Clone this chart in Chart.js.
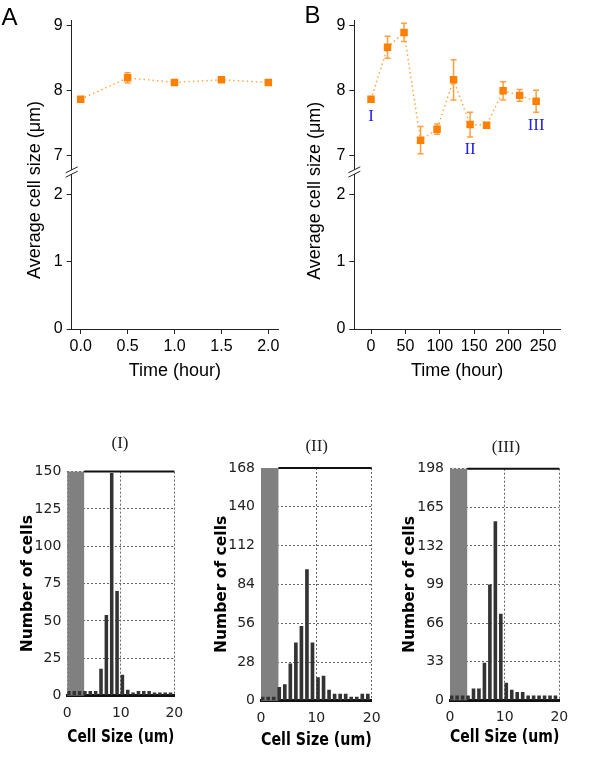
<!DOCTYPE html>
<html>
<head>
<meta charset="utf-8">
<script src="https://cdn.jsdelivr.net/npm/chart.js@4.4.1/dist/chart.umd.min.js"></script>
<style>
  body { margin: 0; background: #fff; }
  canvas { position: absolute; }
</style>
</head>
<body>
<canvas id="chartA" width="300" height="390" style="left:0;top:0"></canvas>
<canvas id="chartB" width="300" height="390" style="left:300px;top:0"></canvas>
<canvas id="hist1" width="200" height="358" style="left:0;top:400px"></canvas>
<canvas id="hist2" width="200" height="358" style="left:200px;top:400px"></canvas>
<canvas id="hist3" width="200" height="358" style="left:400px;top:400px"></canvas>
<script>
// panel A: short time course
const timeA = [0, 0.5, 1, 1.5, 2];
const sizeA = [7.87, 8.2, 8.13, 8.17, 8.13];
const errA = [0.02, 0.08, 0.03, 0.03, 0.03];
const xTicksA = [0, 0.5, 1, 1.5, 2];

// panel B: long time course
const timeB = [0, 24, 48, 72, 96, 120, 144, 168, 192, 216, 240];
const sizeB = [7.87, 8.67, 8.9, 7.24, 7.41, 8.17, 7.48, 7.47, 8.0, 7.93, 7.84];
const errB = [0.02, 0.17, 0.14, 0.21, 0.08, 0.31, 0.19, 0.02, 0.14, 0.09, 0.17];
const xTicksB = [0, 50, 100, 150, 200, 250];
const stageNames = ["I", "II", "III"];
const stageTimes = [0, 144, 240];
const stageLevels = [7.6, 7.1, 7.46];

const yTicksUpper = [7, 8, 9];
const yTicksLower = [0, 1, 2];

// histograms (I), (II), (III)
const binStart = [0, 1, 2, 3, 4, 5, 6, 7, 8, 9, 10, 11, 12, 13, 14, 15, 16, 17, 18, 19];
const countsI = [3, 3, 3, 3, 3, 3, 18, 54, 149, 70, 14, 4, 2, 3, 3, 3, 2, 2, 2, 2];
const countsII = [3, 3, 3, 10, 12, 27, 42, 54, 95, 42, 17, 18, 8, 5, 5, 5, 3, 3, 5, 5];
const countsIII = [4, 4, 4, 4, 10, 10, 32, 99, 153, 74, 15, 9, 7, 7, 4, 4, 4, 4, 4, 4];
const yTicksI = [0, 25, 50, 75, 100, 125, 150];
const yTicksII = [0, 28, 56, 84, 112, 140, 168];
const yTicksIII = [0, 33, 66, 99, 132, 165, 198];
const xTicksHist = [0, 10, 20];
const gateSize = 3.15;

const orange = "#ff7f00";
const sans = "'Liberation Sans', Arial, sans-serif";
const histFont = "'DejaVu Sans', Verdana, sans-serif";

const setTicks = (list) => (scale) => {
  scale.ticks = list.map((v) => ({ value: v }));
};

// free text drawn on top of a chart
const texts = (items) => ({
  id: "texts",
  afterDraw(chart) {
    const ctx = chart.ctx;
    items.forEach((t) => {
      ctx.save();
      ctx.font = t.font;
      ctx.fillStyle = t.color || "#000";
      ctx.textAlign = "center";
      ctx.textBaseline = t.baseline || "alphabetic";
      ctx.translate(t.x, t.y);
      if (t.rotate) ctx.rotate(t.rotate);
      ctx.fillText(t.text, 0, 0);
      ctx.restore();
    });
  },
});

const errorBars = (errs) => ({
  id: "errorBars",
  beforeDatasetsDraw(chart) {
    const ctx = chart.ctx;
    const xs = chart.scales.x;
    const ys = chart.scales.y;
    ctx.save();
    ctx.strokeStyle = "rgba(255,128,0,0.75)";
    ctx.lineWidth = 1.5;
    chart.data.datasets[0].data.forEach((p, i) => {
      const px = xs.getPixelForValue(p.x);
      const top = ys.getPixelForValue(p.y + errs[i]);
      const bot = ys.getPixelForValue(p.y - errs[i]);
      ctx.beginPath();
      ctx.moveTo(px, top);
      ctx.lineTo(px, bot);
      ctx.moveTo(px - 3, top);
      ctx.lineTo(px + 3, top);
      ctx.moveTo(px - 3, bot);
      ctx.lineTo(px + 3, bot);
      ctx.stroke();
    });
    ctx.restore();
  },
});

const axisBreak = {
  id: "axisBreak",
  afterDraw(chart) {
    const ctx = chart.ctx;
    const x = chart.chartArea.left;
    const yb = chart.scales.y.bottom;
    ctx.save();
    ctx.fillStyle = "#fff";
    ctx.fillRect(x - 2, yb - 2, 4, 4);
    ctx.strokeStyle = "#222";
    ctx.lineWidth = 1;
    [-2.2, 2.2].forEach((dy) => {
      ctx.beginPath();
      ctx.moveTo(x - 6, yb + dy + 3);
      ctx.lineTo(x + 6, yb + dy - 3);
      ctx.stroke();
    });
    ctx.restore();
  },
};

const stageMarks = {
  id: "stageMarks",
  afterDraw(chart) {
    const ctx = chart.ctx;
    ctx.save();
    ctx.font = "17px 'Liberation Serif', 'Times New Roman', serif";
    ctx.fillStyle = "#2424e8";
    ctx.textAlign = "center";
    ctx.textBaseline = "middle";
    stageNames.forEach((s, i) => {
      ctx.fillText(s, chart.scales.x.getPixelForValue(stageTimes[i]), chart.scales.y.getPixelForValue(stageLevels[i]));
    });
    ctx.restore();
  },
};

function makeTimeChart(id, times, sizes, errs, xTicks, cfg) {
  const axisTicks = { color: "#000", font: { size: 16, family: sans }, padding: 4 };
  const axisGrid = { drawOnChartArea: false, drawTicks: true, tickLength: 5, color: "#222" };
  return new Chart(document.getElementById(id), {
    type: "line",
    data: {
      datasets: [
        {
          data: times.map((t, i) => ({ x: t, y: sizes[i] })),
          yAxisID: "y",
          borderColor: "#ffa64d",
          borderWidth: 1.5,
          borderDash: [1.5, 3],
          pointStyle: "rect",
          pointRadius: 5.3,
          pointBackgroundColor: orange,
          pointBorderWidth: 0,
          tension: 0,
        },
      ],
    },
    options: {
      responsive: false,
      animation: false,
      layout: { padding: { left: 0, right: cfg.padRight, top: 20.7, bottom: 8 } },
      plugins: { legend: { display: false }, tooltip: { enabled: false } },
      scales: {
        x: {
          type: "linear",
          min: cfg.xMin,
          max: cfg.xMax,
          afterBuildTicks: setTicks(xTicks),
          afterFit: (s) => { s.height = 53; },
          grid: axisGrid,
          border: { color: "#222", width: 1 },
          ticks: { ...axisTicks, padding: 3, callback: cfg.xFormat },
          title: { display: true, text: "Time (hour)", color: "#000", font: { size: 18, family: sans }, padding: { top: 0, bottom: 0 } },
        },
        yLow: {
          type: "linear",
          axis: "y",
          position: "left",
          stack: "left",
          stackWeight: 157,
          min: 0,
          max: 2.333,
          afterBuildTicks: setTicks(yTicksLower),
          afterFit: (s) => { s.width = cfg.yWidth; },
          grid: axisGrid,
          border: { color: "#222", width: 1 },
          ticks: axisTicks,
        },
        y: {
          type: "linear",
          position: "left",
          stack: "left",
          stackWeight: 151.3,
          min: 6.75,
          max: 9.08,
          afterBuildTicks: setTicks(yTicksUpper),
          afterFit: (s) => { s.width = cfg.yWidth; },
          grid: axisGrid,
          border: { color: "#222", width: 1 },
          ticks: axisTicks,
        },
      },
    },
    plugins: [errorBars(errs), axisBreak, texts(cfg.texts)].concat(cfg.extra || []),
  });
}

makeTimeChart("chartA", timeA, sizeA, errA, xTicksA, {
  xMin: -0.096,
  xMax: 2.103,
  yWidth: 71.7,
  padRight: 22,
  xFormat: (v) => Number(v).toFixed(1),
  texts: [
    { text: "A", x: 9.5, y: 25, font: "24px " + sans },
    { text: "Average cell size (\u03bcm)", x: 39.5, y: 190, rotate: -Math.PI / 2, font: "18px " + sans },
  ],
});

makeTimeChart("chartB", timeB, sizeB, errB, xTicksB, {
  xMin: -24.3,
  xMax: 274.7,
  yWidth: 54.3,
  padRight: 40,
  xFormat: (v) => String(v),
  texts: [
    { text: "B", x: 12.5, y: 23.3, font: "24px " + sans },
    { text: "Average cell size (\u03bcm)", x: 19.5, y: 190.8, rotate: -Math.PI / 2, font: "18px " + sans },
  ],
  extra: [stageMarks],
});

// histogram helpers
const gatePlugin = {
  id: "gate",
  beforeDatasetsDraw(chart) {
    const { ctx, chartArea } = chart;
    const gx = chart.scales.x.getPixelForValue(gateSize);
    ctx.save();
    ctx.fillStyle = "#808080";
    ctx.fillRect(chartArea.left, chartArea.top, gx - chartArea.left, chartArea.bottom - chartArea.top);
    ctx.restore();
  },
  afterDatasetsDraw(chart) {
    const { ctx, chartArea } = chart;
    const gx = chart.scales.x.getPixelForValue(gateSize);
    ctx.save();
    ctx.strokeStyle = "#111";
    ctx.lineWidth = 2;
    ctx.beginPath();
    ctx.moveTo(gx, chartArea.top);
    ctx.lineTo(chartArea.right, chartArea.top);
    ctx.stroke();
    ctx.restore();
  },
};

function makeHist(id, counts, yTicks, box, title) {
  const gridStyle = { color: "#666", lineWidth: 1, drawTicks: false };
  return new Chart(document.getElementById(id), {
    type: "bar",
    data: {
      datasets: [
        {
          data: binStart.map((b, i) => ({ x: b + 0.3, y: counts[i] })),
          backgroundColor: "#333",
          categoryPercentage: 1,
          barPercentage: 0.66,
        },
      ],
    },
    options: {
      responsive: false,
      animation: false,
      layout: { padding: { left: 0, right: 200 - box.right, top: box.top, bottom: 0 } },
      plugins: { legend: { display: false }, tooltip: { enabled: false } },
      scales: {
        x: {
          type: "linear",
          min: 0,
          max: 20,
          offset: false,
          afterBuildTicks: setTicks(xTicksHist),
          afterFit: (s) => { s.height = 358 - box.bottom; },
          grid: { ...gridStyle, offset: false },
          border: { color: "#111", width: 3, dash: [2, 2] },
          ticks: { color: "#222", font: { size: 14, family: histFont }, padding: 9 },
          title: { display: true, text: "Cell Size (um)", color: "#000", font: { size: 17, weight: "bold", family: histFont }, padding: { top: 0, bottom: box.xTitlePad } },
        },
        y: {
          type: "linear",
          min: 0,
          max: yTicks[yTicks.length - 1],
          afterBuildTicks: setTicks(yTicks),
          afterFit: (s) => { s.width = box.left; },
          grid: gridStyle,
          border: { display: false, dash: [2, 2] },
          ticks: { color: "#222", font: { size: 14, family: histFont }, padding: 6 },
          title: { display: true, text: "Number of cells", color: "#000", font: { size: 15.5, weight: "bold", family: histFont }, padding: { top: box.yTitlePad, bottom: 0 } },
        },
      },
    },
    plugins: [gatePlugin, texts([title])],
  });
}

const serif = "17px 'Liberation Serif', 'Times New Roman', serif";
makeHist("hist1", countsI, yTicksI, { left: 67.3, right: 174.3, top: 71.6, bottom: 295.6, yTitlePad: 19, xTitlePad: 10.5 },
  { text: "(I)", x: 120, y: 43.7, baseline: "middle", font: serif, color: "#222" });
makeHist("hist2", countsII, yTicksII, { left: 61, right: 171.7, top: 68, bottom: 300.8, yTitlePad: 12.4, xTitlePad: 7.5 },
  { text: "(II)", x: 116.7, y: 46.7, baseline: "middle", font: serif, color: "#222" });
makeHist("hist3", countsIII, yTicksIII, { left: 50, right: 159.3, top: 68.7, bottom: 300.3, yTitlePad: 0.7, xTitlePad: 10 },
  { text: "(III)", x: 106, y: 47.5, baseline: "middle", font: serif, color: "#222" });
</script>
</body>
</html>
